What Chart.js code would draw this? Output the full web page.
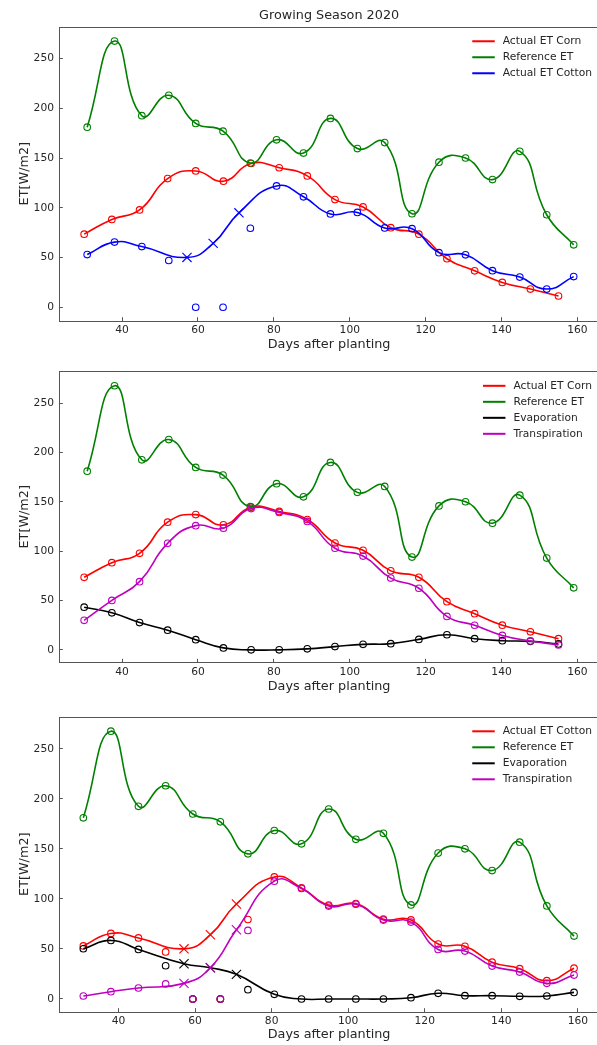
<!DOCTYPE html>
<html>
<head>
<meta charset="utf-8">
<script src="https://cdn.jsdelivr.net/npm/chart.js@4.4.0/dist/chart.umd.min.js"></script>
<style>
  html, body { margin: 0; padding: 0; background: #fff; overflow: hidden; }
  .panel { position: absolute; left: 0; }
  canvas { display: block; }
</style>
</head>
<body>
<div class="panel" style="top:0"><canvas id="cornCottonChart" width="604" height="356"></canvas></div>
<div class="panel" style="top:356px"><canvas id="cornPartsChart" width="604" height="344"></canvas></div>
<div class="panel" style="top:700px"><canvas id="cottonPartsChart" width="604" height="345"></canvas></div>
<script>
// days after planting and ET values
const refDays = [30.8, 38.0, 45.2, 52.3, 59.4, 66.6, 73.8, 80.7, 87.8, 94.9, 102.0, 109.2, 116.4, 123.5, 130.5, 137.6, 144.8, 151.9, 159.0];
const refET = [181, 267.5, 192.5, 213, 184.8, 177, 145, 168.3, 155, 189.8, 159.5, 165.5, 94, 145.8, 150, 128.3, 156.7, 93, 62.8];

const cornDays = [30.0, 37.3, 44.6, 52.0, 59.4, 66.7, 74.0, 81.4, 88.8, 96.1, 103.5, 110.8, 118.2, 125.6, 132.9, 140.2, 147.6, 155.0];
const cornET = [73.5, 88.3, 97.8, 129.3, 137, 126.7, 144.5, 140.2, 132, 108.2, 100.8, 80, 73.5, 48.8, 36.6, 25, 18.3, 11.3];
const cornEvap = [43.2, 37.5, 27.6, 19.9, 10.3, 2, 0, 0, 1, 3.3, 5.6, 6.3, 10.6, 15.3, 11.3, 9.3, 8.6, 6];
const cornTransp = [29.9, 50.1, 69.1, 107.9, 125.8, 123.2, 143.1, 139.1, 130.1, 102.9, 95, 72.7, 62.4, 33.9, 24.9, 14.6, 9, 5];

const cottonDays = [30.8, 38.0, 45.2, 57.1, 64.0, 70.8, 80.7, 87.8, 94.9, 102.0, 109.2, 116.4, 123.5, 130.5, 137.6, 144.8, 151.9, 159.0];
const cottonGapFilled = [false, false, false, true, true, true, false, false, false, false, false, false, false, false, false, false, false, false];
const cottonET = [53, 65.5, 61, 50.1, 64.2, 94.9, 121.9, 111, 93.8, 95.3, 79.7, 79, 54.9, 52.7, 36.8, 30.3, 18.3, 30.8];
const cottonEvap = [50.2, 58.5, 49.5, 35.2, 31.2, 24.6, 4.7, 0, 0, 0, 0, 1.3, 5.7, 3.3, 3.3, 2.7, 3, 6.6];
const cottonTransp = [3, 7.3, 11, 15.6, 31.2, 69.1, 117.7, 110.4, 92.8, 94.7, 78.8, 76.8, 49.5, 47.9, 32.9, 26.9, 15.6, 23.9];

// measured cotton values that the curves skip
const cottonMeasDays = [52.3, 59.4, 66.6, 73.8];
const cottonMeasET = [47, 0, 0, 79.4];
const cottonMeasEvap = [33.2, 0, 0, 9.3];
const cottonMeasTransp = [15, 0, 0, 68.5];

const dayTicks = [40, 60, 80, 100, 120, 140, 160];
const etTicks = [0, 50, 100, 150, 200, 250];

const RED = "#ff0000";
const GREEN = "#008000";
const BLUE = "#0000ff";
const BLACK = "#000000";
const MAGENTA = "#bf00bf";
const TEXT = "#262626";
const SPINE = "#555555";

Chart.defaults.font.family = "'DejaVu Sans', sans-serif";

function toPoints(days, values) {
  return days.map((d, i) => ({ x: d, y: values[i] }));
}

function curve(label, color, days, values, gapFilled) {
  return {
    legendLabel: label,
    data: toPoints(days, values),
    borderColor: color,
    borderWidth: 1.6,
    tension: 0.5,
    pointStyle: gapFilled ? gapFilled.map(g => g ? "crossRot" : "circle") : "circle",
    pointRadius: gapFilled ? gapFilled.map(g => g ? 6.5 : 3.3) : 3.3,
    pointBorderColor: color,
    pointBackgroundColor: "rgba(0,0,0,0)",
    pointBorderWidth: 1.1
  };
}

function loosePoints(color, days, values) {
  return {
    data: toPoints(days, values),
    showLine: false,
    borderColor: color,
    pointStyle: "circle",
    pointRadius: 3.3,
    pointBorderColor: color,
    pointBackgroundColor: "rgba(0,0,0,0)",
    pointBorderWidth: 1.1
  };
}

const frameAndLegend = {
  id: "frameAndLegend",
  afterDatasetsDraw(chart) {
    const { ctx, chartArea: a } = chart;
    ctx.save();
    ctx.strokeStyle = SPINE;
    ctx.lineWidth = 1;
    ctx.strokeRect(Math.round(a.left) + 0.5, Math.round(a.top) + 0.5, Math.round(a.right - a.left), Math.round(a.bottom - a.top));

    const items = chart.data.datasets.filter(d => d.legendLabel);
    ctx.font = "10.7px 'DejaVu Sans'";
    const widest = Math.max(...items.map(d => ctx.measureText(d.legendLabel).width));
    const textX = 592 - widest;
    items.forEach((d, i) => {
      const y = a.top + 14.6 + i * 16;
      ctx.strokeStyle = d.borderColor;
      ctx.lineWidth = 2;
      ctx.beginPath();
      ctx.moveTo(textX - 30.5, y);
      ctx.lineTo(textX - 8, y);
      ctx.stroke();
      ctx.fillStyle = TEXT;
      ctx.textBaseline = "middle";
      ctx.fillText(d.legendLabel, textX, y);
    });
    ctx.restore();
  }
};

function buildChart(canvasId, datasets, frame) {
  // later series sit on top, like the original plot
  datasets.forEach((d, i) => { d.order = datasets.length - i; });

  new Chart(document.getElementById(canvasId), {
    type: "line",
    data: { datasets },
    options: {
      responsive: false,
      animation: false,
      events: [],
      layout: { padding: { top: frame.padTop, right: 1.6, left: 0, bottom: 0 } },
      plugins: {
        legend: { display: false },
        tooltip: { enabled: false },
        title: {
          display: !!frame.title,
          text: frame.title || "",
          fullSize: false,
          color: TEXT,
          font: { size: 12.8, weight: "normal" },
          padding: { top: 7.6, bottom: 3.7 }
        }
      },
      scales: {
        x: {
          type: "linear",
          min: frame.xMin,
          max: frame.xMax,
          afterFit: s => { s.height = frame.xHeight; },
          afterBuildTicks: s => { s.ticks = dayTicks.map(v => ({ value: v })); },
          border: { display: false },
          grid: { drawOnChartArea: false, drawTicks: true, tickLength: -3.5, color: SPINE },
          ticks: { color: TEXT, font: { size: 10.7 }, padding: 6.8, maxRotation: 0 },
          title: {
            display: true,
            text: "Days after planting",
            color: TEXT,
            font: { size: 12.8 },
            padding: { top: 0, bottom: frame.xTitlePad }
          }
        },
        y: {
          min: frame.yMin,
          max: frame.yMax,
          afterFit: s => { s.width = 59.3; },
          afterBuildTicks: s => { s.ticks = etTicks.map(v => ({ value: v })); },
          border: { display: false },
          grid: { drawOnChartArea: false, drawTicks: true, tickLength: -3.5, color: SPINE },
          ticks: { color: TEXT, font: { size: 10.7 }, padding: 8.8 },
          title: {
            display: true,
            text: "ET[W/m2]",
            color: TEXT,
            font: { size: 12.8 },
            padding: { top: 17.2, bottom: 0 }
          }
        }
      }
    },
    plugins: [frameAndLegend]
  });
}

buildChart("cornCottonChart", [
  curve("Actual ET Corn", RED, cornDays, cornET),
  curve("Reference ET", GREEN, refDays, refET),
  curve("Actual ET Cotton", BLUE, cottonDays, cottonET, cottonGapFilled),
  loosePoints(BLUE, cottonMeasDays, cottonMeasET)
], { title: "Growing Season 2020", padTop: 0, xMin: 23.45, xMax: 165.65, yMin: -13.5, yMax: 282, xHeight: 35.3, xTitlePad: 3.7 });

buildChart("cornPartsChart", [
  curve("Actual ET Corn", RED, cornDays, cornET),
  curve("Reference ET", GREEN, refDays, refET),
  curve("Evaporation", BLACK, cornDays, cornEvap),
  curve("Transpiration", MAGENTA, cornDays, cornTransp)
], { padTop: 10.7, xMin: 23.45, xMax: 165.65, yMin: -12.6, yMax: 282.2, xHeight: 37.7, xTitlePad: 6 });

buildChart("cottonPartsChart", [
  curve("Actual ET Cotton", RED, cottonDays, cottonET, cottonGapFilled),
  loosePoints(RED, cottonMeasDays, cottonMeasET),
  curve("Reference ET", GREEN, refDays, refET),
  curve("Evaporation", BLACK, cottonDays, cottonEvap, cottonGapFilled),
  loosePoints(BLACK, cottonMeasDays, cottonMeasEvap),
  curve("Transpiration", MAGENTA, cottonDays, cottonTransp, cottonGapFilled),
  loosePoints(MAGENTA, cottonMeasDays, cottonMeasTransp)
], { padTop: 16.7, xMin: 24.52, xMax: 165.5, yMin: -12.7, yMax: 282, xHeight: 33.3, xTitlePad: 2.4 });
</script>
</body>
</html>
